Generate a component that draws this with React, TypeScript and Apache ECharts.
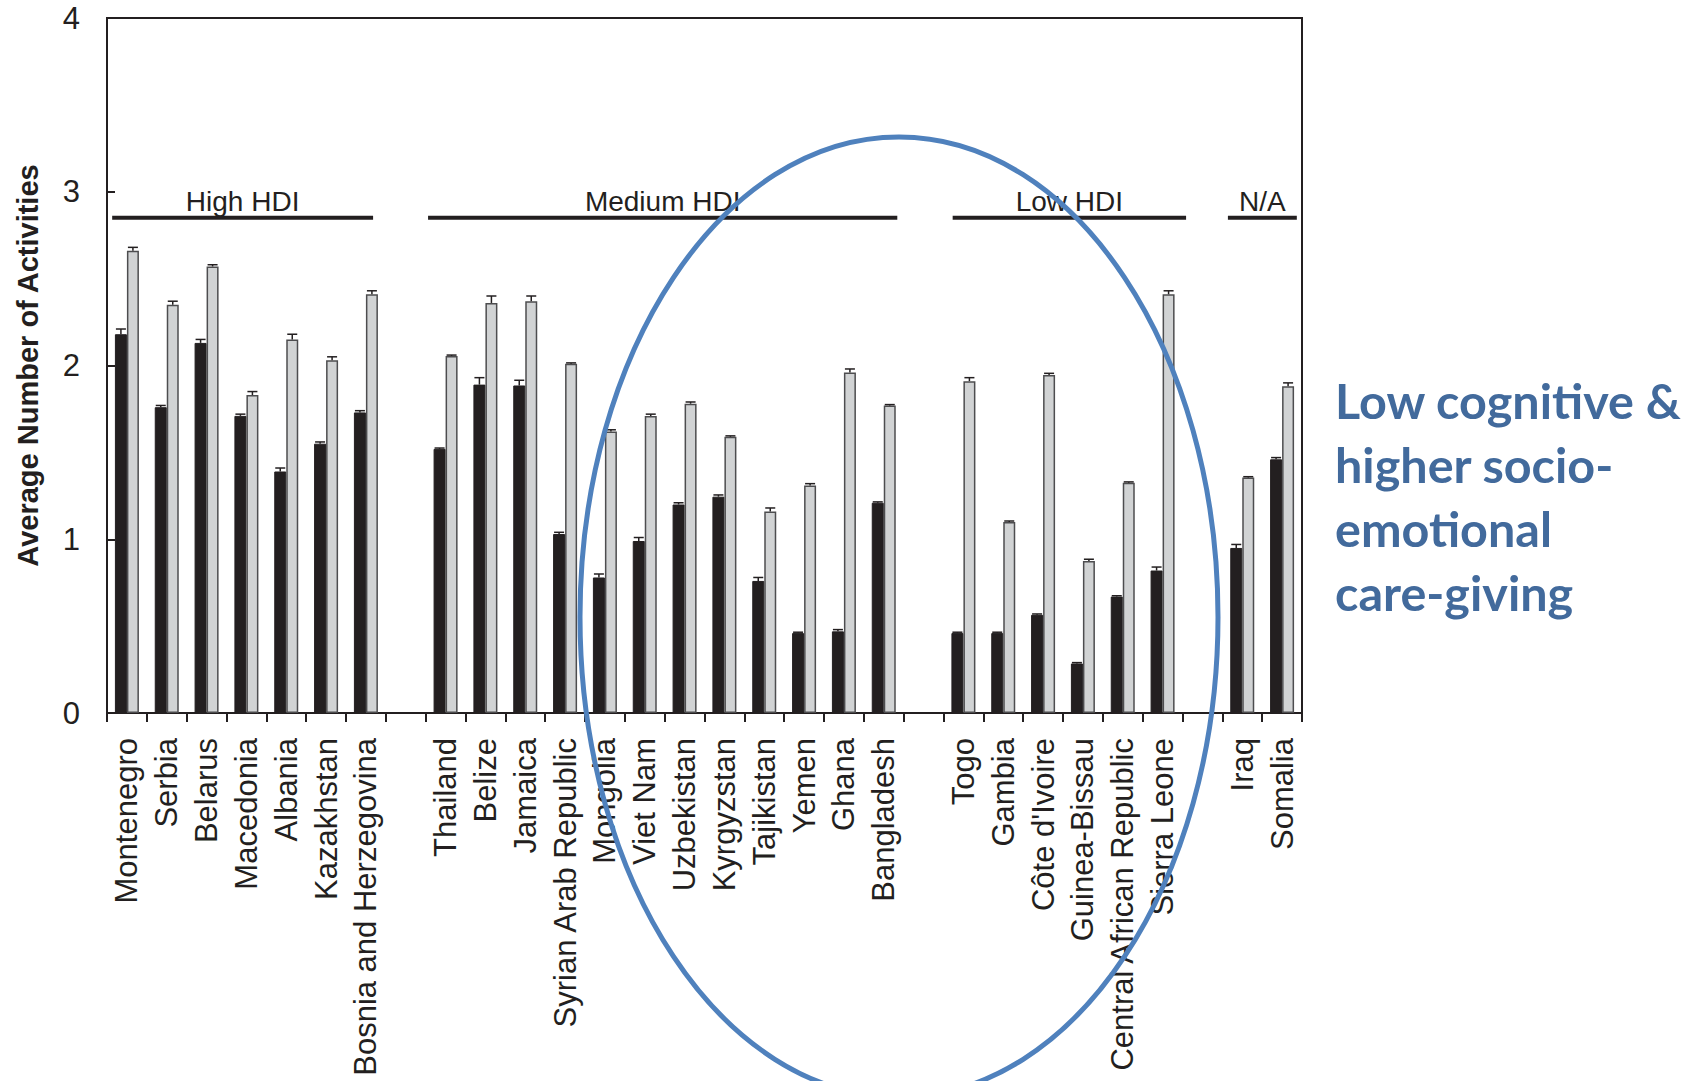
import React, { useEffect, useRef } from "react";
import * as echarts from "echarts";

// ---------- data ----------
const categories = [
  "Montenegro", "Serbia", "Belarus", "Macedonia", "Albania", "Kazakhstan", "Bosnia and Herzegovina", "",
  "Thailand", "Belize", "Jamaica", "Syrian Arab Republic", "Mongolia", "Viet Nam", "Uzbekistan", "Kyrgyzstan",
  "Tajikistan", "Yemen", "Ghana", "Bangladesh", "",
  "Togo", "Gambia", "Côte d'Ivoire", "Guinea-Bissau", "Central African Republic", "Sierra Leone", "",
  "Iraq", "Somalia",
];

const cognitive = [
  2.18, 1.76, 2.13, 1.71, 1.39, 1.55, 1.73, null,
  1.52, 1.89, 1.885, 1.03, 0.78, 0.99, 1.2, 1.245, 0.76, 0.46, 0.47, 1.21, null,
  0.46, 0.46, 0.565, 0.285, 0.67, 0.82, null,
  0.95, 1.46,
];
const cognitiveErr = [
  0.03, 0.01, 0.02, 0.01, 0.02, 0.01, 0.01, null,
  0.005, 0.04, 0.03, 0.01, 0.02, 0.02, 0.01, 0.01, 0.02, 0.005, 0.01, 0.005, null,
  0.005, 0.005, 0.005, 0.005, 0.005, 0.02, null,
  0.02, 0.01,
];

const socioEmotional = [
  2.66, 2.35, 2.57, 1.83, 2.15, 2.03, 2.41, null,
  2.055, 2.36, 2.37, 2.01, 1.62, 1.71, 1.78, 1.59, 1.16, 1.31, 1.96, 1.77, null,
  1.91, 1.1, 1.945, 0.875, 1.325, 2.41, null,
  1.355, 1.88,
];
const socioErr = [
  0.02, 0.02, 0.01, 0.02, 0.03, 0.02, 0.02, null,
  0.005, 0.04, 0.03, 0.005, 0.01, 0.01, 0.01, 0.005, 0.02, 0.01, 0.02, 0.005, null,
  0.02, 0.005, 0.01, 0.01, 0.005, 0.02, null,
  0.005, 0.02,
];

const groupNames = ["High HDI", "Medium HDI", "Low HDI", "N/A"];
const groupStart = [-0.37, 7.56, 20.73, 27.64]; // in category units
const groupEnd = [6.18, 19.34, 26.59, 29.37];
const groupLevel = 2.85;

const yMin = 0;
const yMax = 4;
const yInterval = 1;

const noteLines = ["Low cognitive &", "higher socio-", "emotional", "care-giving"];

// ---------- styling ----------
const FONT = '"Liberation Sans", Arial, Helvetica, sans-serif';
const INK = "#231F20";
const BAR_W = 12;

export default function App() {
  const ref = useRef<HTMLDivElement>(null);

  useEffect(() => {
    if (!ref.current) return;
    const chart = echarts.init(ref.current, undefined, { renderer: "svg" });

    const errData = (vals: (number | null)[], errs: (number | null)[]) =>
      vals
        .map((v, i) => (v == null ? null : [i, v, v + (errs[i] || 0)]))
        .filter((d) => d !== null);

    const makeErr = (offset: number) => (params: any, api: any) => {
      const i = api.value(0);
      const base = api.coord([i, api.value(1)]);
      const top = api.coord([i, api.value(2)]);
      const x = base[0] + offset;
      const st = { stroke: INK, lineWidth: 1.5 };
      return {
        type: "group",
        children: [
          { type: "line", shape: { x1: x, y1: base[1], x2: x, y2: top[1] }, style: st },
          { type: "line", shape: { x1: x - 5, y1: top[1], x2: x + 5, y2: top[1] }, style: st },
        ],
      };
    };

    const renderGroup = (params: any, api: any) => {
      const k = params.dataIndex;
      const band = api.size([1, 0])[0];
      const xAt = (s: number) => {
        const r = Math.round(s);
        return api.coord([r, 0])[0] + (s - r) * band;
      };
      const x1 = xAt(groupStart[k]);
      const x2 = xAt(groupEnd[k]);
      const y = api.coord([0, api.value(1)])[1];
      return {
        type: "group",
        children: [
          {
            type: "line",
            shape: { x1, y1: y, x2, y2: y },
            style: { stroke: INK, lineWidth: 4 },
          },
          {
            type: "text",
            x: (x1 + x2) / 2,
            y: y - 2,
            style: {
              text: groupNames[k],
              fill: INK,
              font: `28px ${FONT}`,
              align: "center",
              verticalAlign: "bottom",
            },
          },
        ],
      };
    };

    const option: any = {
      animation: false,
      backgroundColor: "#ffffff",
      grid: {
        left: 107,
        top: 18,
        width: 1195,
        height: 695,
        show: true,
        borderColor: INK,
        borderWidth: 2,
        backgroundColor: "transparent",
        containLabel: false,
        outerBoundsMode: "none",
      },
      xAxis: {
        type: "category",
        data: categories,
        axisLine: { lineStyle: { color: INK, width: 2 } },
        axisTick: { show: true, interval: 0, length: 9, lineStyle: { color: INK, width: 2 } },
        axisLabel: {
          interval: 0,
          rotate: 90,
          margin: 25,
          fontSize: 31,
          fontFamily: FONT,
          color: INK,
        },
        splitLine: { show: false },
      },
      yAxis: {
        type: "value",
        min: yMin,
        max: yMax,
        interval: yInterval,
        name: "Average Number of Activities",
        nameLocation: "middle",
        nameRotate: 90,
        nameGap: 65,
        nameTextStyle: { fontFamily: FONT, fontWeight: "bold", fontSize: 29, color: INK },
        axisLine: { show: true, lineStyle: { color: INK, width: 2 } },
        axisTick: { show: true, inside: true, length: 8, lineStyle: { color: INK, width: 2 } },
        axisLabel: { margin: 27, fontSize: 31, fontFamily: FONT, color: INK },
        splitLine: { show: false },
      },
      series: [
        {
          name: "Cognitive",
          type: "bar",
          barWidth: BAR_W,
          barGap: "0%",
          data: cognitive.map((v) => (v == null ? "-" : v)),
          itemStyle: { color: INK, borderColor: INK, borderWidth: 1 },
          z: 2,
        },
        {
          name: "Socio-emotional",
          type: "bar",
          barWidth: BAR_W,
          barGap: "0%",
          data: socioEmotional.map((v) => (v == null ? "-" : v)),
          itemStyle: { color: "#D1D3D4", borderColor: "#4D4D4F", borderWidth: 1.5 },
          z: 2,
        },
        {
          type: "custom",
          renderItem: makeErr(-BAR_W / 2),
          data: errData(cognitive, cognitiveErr),
          z: 3,
          silent: true,
        },
        {
          type: "custom",
          renderItem: makeErr(BAR_W / 2),
          data: errData(socioEmotional, socioErr),
          z: 3,
          silent: true,
        },
        {
          type: "custom",
          renderItem: renderGroup,
          data: groupNames.map((_, k) => [Math.round((groupStart[k] + groupEnd[k]) / 2), groupLevel]),
          clip: false,
          z: 4,
          silent: true,
        },
      ],
      graphic: [
        {
          type: "ellipse",
          shape: { cx: 899, cy: 617, rx: 319, ry: 480 },
          style: { fill: "none", stroke: "#4F81BD", lineWidth: 5 },
          z: 100,
          silent: true,
        },
        ...noteLines.map((t, i) => ({
          type: "text",
          x: 1335,
          y: 400 + i * 64,
          style: {
            text: t,
            fill: "#426A9C",
            font: 'bold 48.5px Lato, "Open Sans", sans-serif',
            align: "left",
            verticalAlign: "middle",
          },
          z: 100,
          silent: true,
        })),
      ],
    };

    chart.setOption(option);
    return () => chart.dispose();
  }, []);

  return (
    <div
      ref={ref}
      style={{ position: "fixed", left: 0, top: 0, width: 1691, height: 1081, background: "#fff" }}
    />
  );
}
